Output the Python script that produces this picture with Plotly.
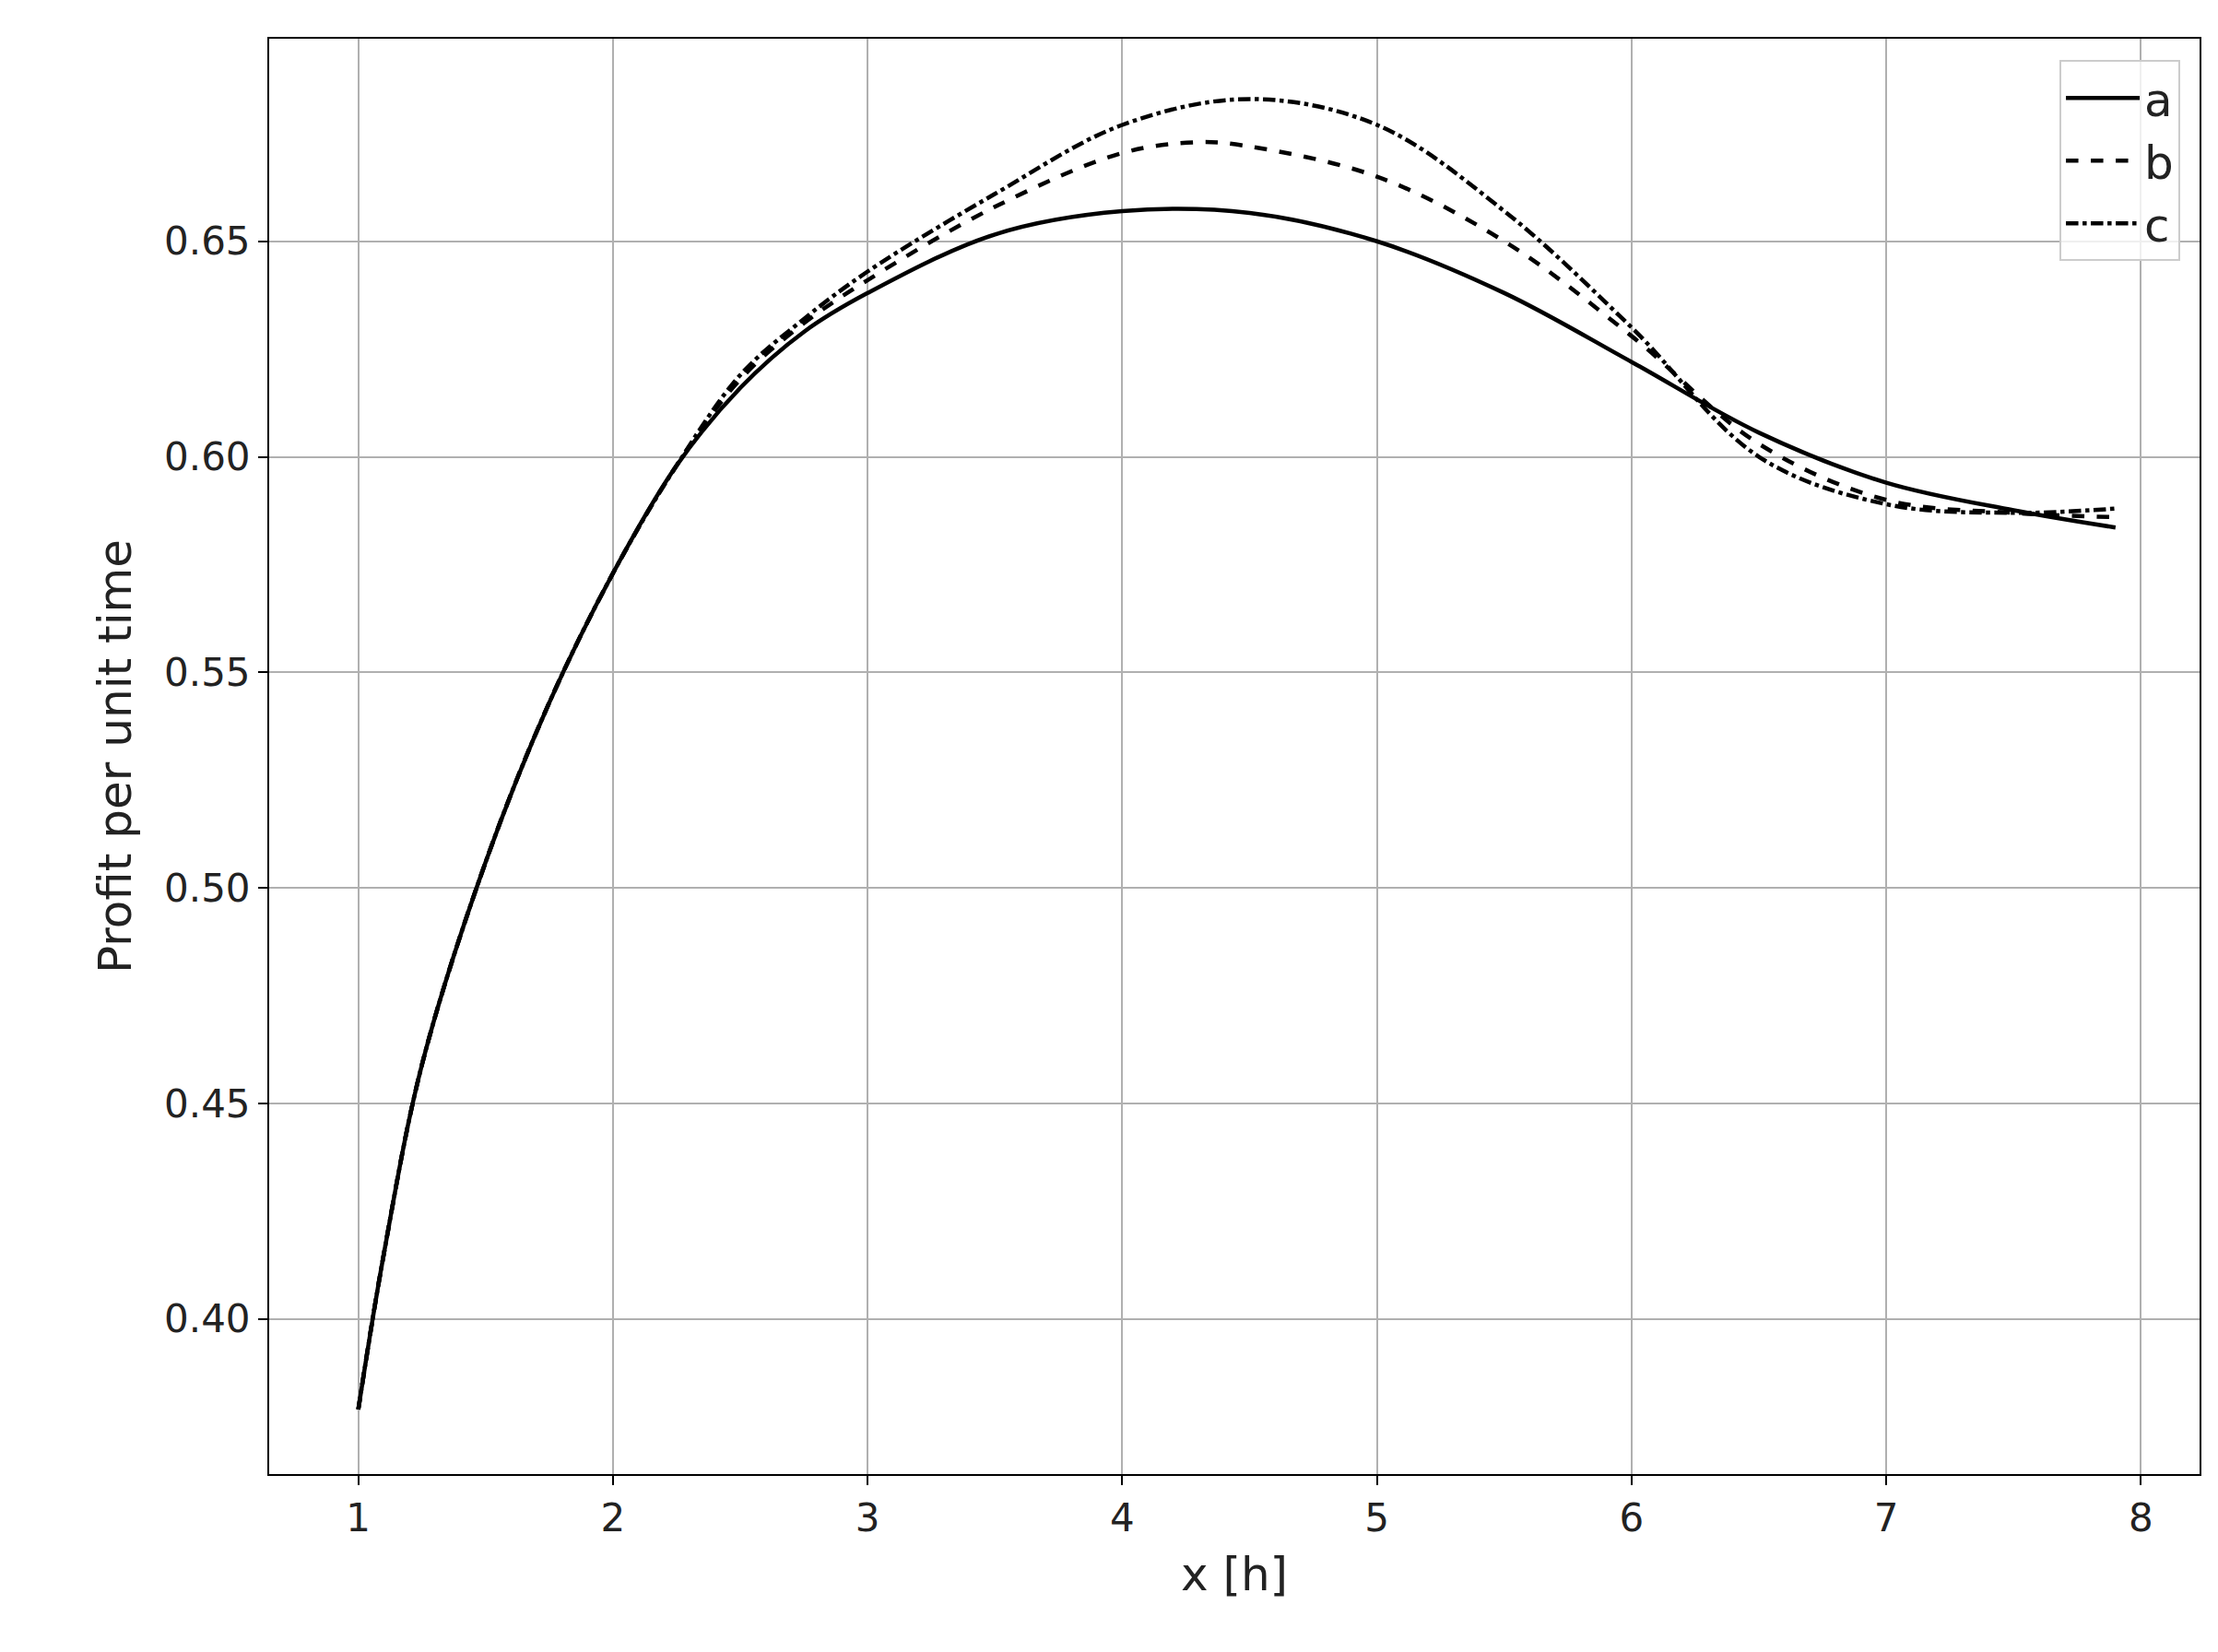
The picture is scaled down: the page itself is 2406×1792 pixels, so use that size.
import plotly.graph_objects as go

x_common = [1.0, 1.1, 1.25, 1.5, 1.75, 2.0, 2.25]
y_common = [0.379, 0.415, 0.459, 0.506, 0.543, 0.573, 0.598]

xa = x_common + [2.5, 2.75, 3, 3.5, 4, 4.5, 5, 5.5, 6, 6.5, 7, 7.5, 7.9]
ya = y_common + [0.616, 0.629, 0.638, 0.6516, 0.657, 0.6566, 0.650, 0.638, 0.622, 0.6056, 0.594, 0.5876, 0.5836]

xb = x_common + [2.5, 2.75, 3, 3.5, 4, 4.3, 4.5, 5, 5.5, 6, 6.5, 7, 7.5, 7.9]
yb = y_common + [0.618, 0.631, 0.641, 0.658, 0.6705, 0.673, 0.672, 0.665, 0.650, 0.628, 0.603, 0.590, 0.587, 0.586]

xc = x_common + [2.5, 2.75, 3, 3.5, 4, 4.5, 5, 5.5, 6, 6.5, 7, 7.5, 7.9]
yc = y_common + [0.619, 0.632, 0.643, 0.661, 0.677, 0.683, 0.677, 0.657, 0.630, 0.600, 0.589, 0.587, 0.588]

fig = go.Figure()
for name, xs, ys, dash in [("a", xa, ya, "solid"), ("b", xb, yb, "dash"), ("c", xc, yc, "dashdot")]:
    fig.add_trace(go.Scatter(x=xs, y=ys, name=name, mode="lines",
                             line=dict(color="black", width=4.5, dash=dash, shape="spline", smoothing=1)))

ax = dict(showline=True, linecolor="black", linewidth=2, mirror=True,
          showgrid=True, gridcolor="#b0b0b0", gridwidth=2, zeroline=False,
          ticks="outside", ticklen=10, tickwidth=2, tickcolor="black")
fig.update_layout(
    width=2406, height=1792, plot_bgcolor="white", paper_bgcolor="white",
    font=dict(family="DejaVu Sans", size=42, color="#222"),
    margin=dict(l=284, r=28, t=34, b=201),
    xaxis=dict(ax, range=[0.65, 8.23], tickvals=[1, 2, 3, 4, 5, 6, 7, 8],
               title=dict(text="x [h]", standoff=20)),
    yaxis=dict(ax, range=[0.364, 0.697], tickvals=[0.40, 0.45, 0.50, 0.55, 0.60, 0.65],
               tickformat=".2f", title=dict(text="Profit per unit time", standoff=20)),
    legend=dict(x=0.99, y=0.985, xanchor="right", yanchor="top",
                bordercolor="#ccc", borderwidth=2, bgcolor="rgba(255,255,255,0.8)",
                font=dict(size=50), itemwidth=80, tracegroupgap=10),
)
fig.write_html("out.html")
